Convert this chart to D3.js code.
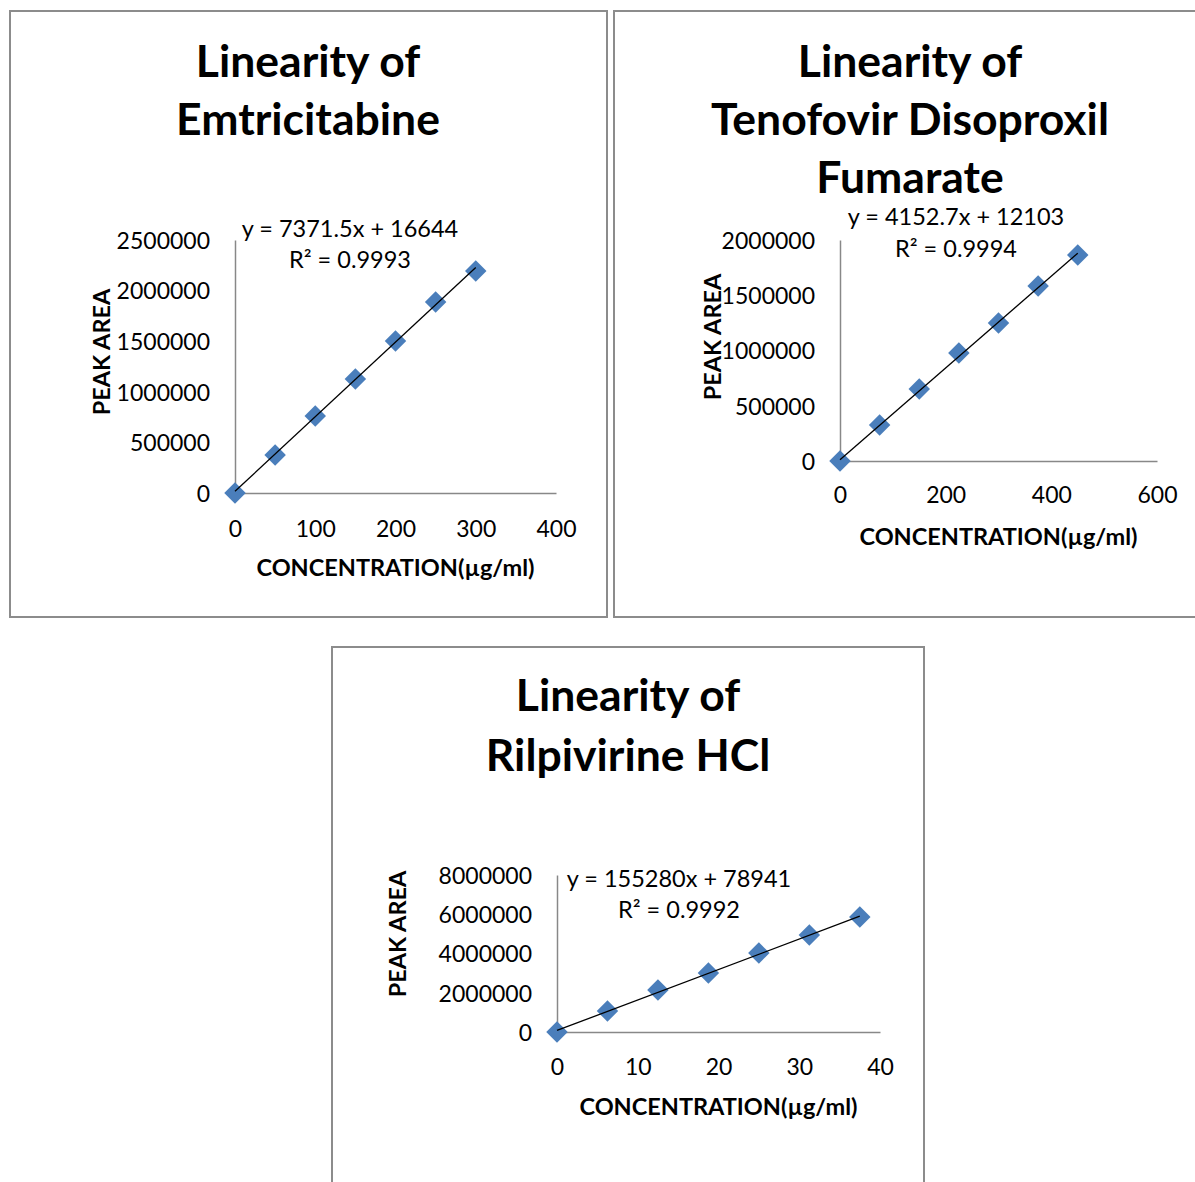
<!DOCTYPE html>
<html><head><meta charset="utf-8">
<script src="https://cdn.jsdelivr.net/npm/d3@7"></script>
<style>
body{margin:0;background:#fff}
svg{display:block}
text{font-family:Lato,"Open Sans",sans-serif;fill:#000}
</style>
</head><body>
<svg id="c" width="1195" height="1182"></svg>
<script>
// ---- Data ----
const emtTitle = ["Linearity of", "Emtricitabine"];
const emtConc = [0, 50, 100, 150, 200, 250, 300];
const emtArea = [0, 375000, 761000, 1126000, 1502000, 1887000, 2194000];
const emtXTicks = [0, 100, 200, 300, 400];
const emtYTicks = [0, 500000, 1000000, 1500000, 2000000, 2500000];
const emtFit = [7371.5, 16644];
const emtEq = ["y = 7371.5x + 16644", "R² = 0.9993"];

const tdfTitle = ["Linearity of", "Tenofovir Disoproxil", "Fumarate"];
const tdfConc = [0, 75, 150, 225, 300, 375, 450];
const tdfArea = [0, 326000, 652000, 977000, 1249000, 1584000, 1864000];
const tdfXTicks = [0, 200, 400, 600];
const tdfYTicks = [0, 500000, 1000000, 1500000, 2000000];
const tdfFit = [4152.7, 12103];
const tdfEq = ["y = 4152.7x + 12103", "R² = 0.9994"];

const rplTitle = ["Linearity of", "Rilpivirine HCl"];
const rplConc = [0, 6.25, 12.5, 18.75, 25, 31.25, 37.5];
const rplArea = [0, 1070000, 2140000, 3006000, 4025000, 4943000, 5860000];
const rplXTicks = [0, 10, 20, 30, 40];
const rplYTicks = [0, 2000000, 4000000, 6000000, 8000000];
const rplFit = [155280, 78941];
const rplEq = ["y = 155280x + 78941", "R² = 0.9992"];

const xAxisTitle = "CONCENTRATION(µg/ml)";
const yAxisTitle = "PEAK AREA";

// ---- Layout ----
const charts = [
  {title: emtTitle, conc: emtConc, area: emtArea, xt: emtXTicks, yt: emtYTicks, fit: emtFit, eq: emtEq,
   box: [10, 11, 597, 606], px: [235, 556], py: [493, 240],
   tx: 308, tys: [77, 135], eqx: 350, eqy: [237, 268], ylab: [102, 352], xlabY: 576, xtickY: 537},
  {title: tdfTitle, conc: tdfConc, area: tdfArea, xt: tdfXTicks, yt: tdfYTicks, fit: tdfFit, eq: tdfEq,
   box: [614, 11, 620, 606], px: [840, 1157], py: [461, 240],
   tx: 910, tys: [77, 135, 193], eqx: 956, eqy: [225, 257], ylab: [713, 337], xlabY: 545, xtickY: 503},
  {title: rplTitle, conc: rplConc, area: rplArea, xt: rplXTicks, yt: rplYTicks, fit: rplFit, eq: rplEq,
   box: [332, 647, 592, 600], px: [557, 880], py: [1032, 875],
   tx: 628, tys: [711, 771], eqx: 679, eqy: [887, 918], ylab: [398, 934], xlabY: 1115, xtickY: 1075}
];

const svg = d3.select("#c");
const AXIS = "#888888";
const MARK = "#4a7ebb";

charts.forEach(c => {
  const g = svg.append("g");
  g.append("rect").attr("x", c.box[0]).attr("y", c.box[1]).attr("width", c.box[2]).attr("height", c.box[3])
    .attr("fill", "#fff").attr("stroke", "#8c8c8c").attr("stroke-width", 2);

  const x = d3.scaleLinear().domain([c.xt[0], c.xt[c.xt.length - 1]]).range(c.px);
  const y = d3.scaleLinear().domain([c.yt[0], c.yt[c.yt.length - 1]]).range(c.py);

  // Title
  const t = g.append("text").attr("text-anchor", "middle").style("font-weight", 700).style("font-size", "44.5px");
  c.title.forEach((line, i) => t.append("tspan").attr("x", c.tx).attr("y", c.tys[i]).text(line));

  // Axes
  const xa = g.append("g").attr("transform", `translate(0,${c.py[0]})`)
    .call(d3.axisBottom(x).tickValues(c.xt).tickSize(0).tickFormat(d3.format("d")));
  xa.select(".domain").attr("stroke", AXIS).attr("stroke-width", 1.5);
  xa.selectAll("text").attr("y", c.xtickY - c.py[0]).attr("dy", 0)
    .style("font-size", "23px").style("font-family", "Lato").attr("fill", "#000");

  const ya = g.append("g").attr("transform", `translate(${c.px[0]},0)`)
    .call(d3.axisLeft(y).tickValues(c.yt).tickSize(0).tickPadding(25).tickFormat(d3.format("d")));
  ya.select(".domain").attr("stroke", AXIS).attr("stroke-width", 1.5);
  ya.selectAll("text").attr("dy", "0.36em")
    .style("font-size", "23px").style("font-family", "Lato").attr("fill", "#000");

  // Axis titles
  g.append("text").attr("x", (c.px[0] + c.px[1]) / 2).attr("y", c.xlabY).attr("text-anchor", "middle")
    .style("font-weight", 700).style("font-size", "23.5px").text(xAxisTitle);
  g.append("text").attr("transform", `translate(${c.ylab[0]},${c.ylab[1]}) rotate(-90)`)
    .attr("text-anchor", "middle").attr("dy", "0.36em")
    .style("font-weight", 700).style("font-size", "23.5px").text(yAxisTitle);

  // Markers
  const pts = c.conc.map((d, i) => [d, c.area[i]]);
  const sym = d3.symbol().type(d3.symbolSquare).size(230);
  g.selectAll("path.pt").data(pts).join("path").attr("class", "pt")
    .attr("d", sym).attr("fill", MARK)
    .attr("transform", d => `translate(${x(d[0])},${y(d[1])}) rotate(45)`);

  // Trendline (linear fit from the printed equation)
  const ext = d3.extent(c.conc);
  const line = d3.line().x(d => x(d)).y(d => y(c.fit[0] * d + c.fit[1]));
  g.append("path").attr("d", line(ext)).attr("fill", "none").attr("stroke", "#000").attr("stroke-width", 1.3);

  // Equation
  c.eq.forEach((s, i) => g.append("text").attr("x", c.eqx).attr("y", c.eqy[i]).attr("text-anchor", "middle")
    .style("font-size", "23.5px").text(s));
});
</script>
</body></html>
